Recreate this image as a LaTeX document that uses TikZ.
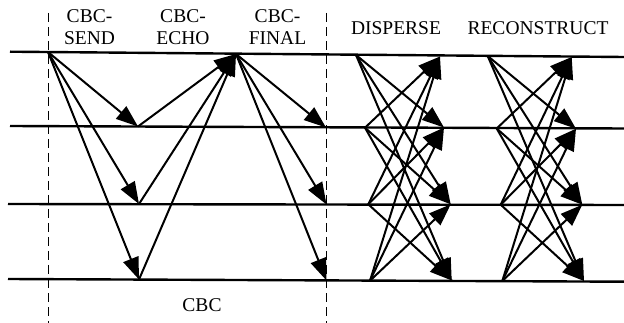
\documentclass[tikz,border=0pt]{standalone}
\usepackage{fontspec}
\setmainfont{Liberation Serif}
\usetikzlibrary{arrows.meta}
\begin{document}
\begin{tikzpicture}[x=1pt,y=-1pt,
  hline/.style={line width=2.4pt},
  msg/.style={line width=2pt,-{Triangle[length=22pt,width=16pt]}},
  divider/.style={line width=1pt,dash pattern=on 9pt off 5pt},
  lbl/.style={font=\fontsize{19.5}{22}\selectfont,align=center,anchor=base,inner sep=0pt}]
\useasboundingbox (0,0) rectangle (624,323);
% process lines
\coordinate (L1a) at (10,51.7);  \coordinate (L1b) at (624,57);
\coordinate (L2a) at (10,126);   \coordinate (L2b) at (624,128.5);
\coordinate (L3a) at (8,204);    \coordinate (L3b) at (624,205);
\coordinate (L4a) at (8,279);    \coordinate (L4b) at (624,281.7);
\draw[hline] (L1a) -- (L1b);
\draw[hline] (L2a) -- (L2b);
\draw[hline] (L3a) -- (L3b);
\draw[hline] (L4a) -- (L4b);
% dividers
\coordinate (D1a) at (48.5,13); \coordinate (D1b) at (48.5,323);
\coordinate (D2a) at (326,13);  \coordinate (D2b) at (326,323);
\draw[divider] (D1a) -- (D1b);
\draw[divider] (D2a) -- (D2b);
% labels
\node[lbl] (send) at (89.5,45) {CBC-\\SEND};
\node[lbl] (echo) at (183,45) {CBC-\\ECHO};
\node[lbl] (final) at (277.5,45) {CBC-\\FINAL};
\node[lbl] (disp) at (396,35) {DISPERSE};
\node[lbl] (reco) at (538,35) {RECONSTRUCT};
\node[lbl] (cbc) at (202,312) {CBC};
% CBC points
\coordinate (s0) at (48,52);
\coordinate (e2) at (138,126.5);
\coordinate (e3) at (139,204);
\coordinate (e4) at (139,279.5);
\coordinate (f1) at (236,54);
\coordinate (t2) at (326,127.5);
\coordinate (t3) at (326.5,204.5);
\coordinate (t4) at (326.5,280.5);
\foreach \p in {e2,e3,e4} \draw[msg] (s0) -- (\p);
\foreach \p in {e2,e3,e4} \draw[msg] (\p) -- (f1);
\foreach \p in {t2,t3,t4} \draw[msg] (f1) -- (\p);
% DISPERSE points
\coordinate (dA1) at (356,55);
\coordinate (dA2) at (365,127.7);
\coordinate (dA3) at (368.3,204.3);
\coordinate (dA4) at (370,280.7);
\coordinate (dB1) at (440,56.5);
\coordinate (dB2) at (444,127.5);
\coordinate (dB3) at (450.7,204.3);
\coordinate (dB4) at (451.7,280.5);
% RECONSTRUCT points
\coordinate (rA1) at (487.7,56);
\coordinate (rA2) at (496.7,128.5);
\coordinate (rA3) at (500.7,204.7);
\coordinate (rA4) at (502.3,281);
\coordinate (rB1) at (571.7,57);
\coordinate (rB2) at (576,128.7);
\coordinate (rB3) at (582.3,204.7);
\coordinate (rB4) at (584,281);
\foreach \i in {1,2,3,4}{
  \foreach \j in {1,2,3,4}{
    \ifnum\i=\j\else
      \draw[msg] (dA\i) -- (dB\j);
      \draw[msg] (rA\i) -- (rB\j);
    \fi
  }
}
\end{tikzpicture}
\end{document}
